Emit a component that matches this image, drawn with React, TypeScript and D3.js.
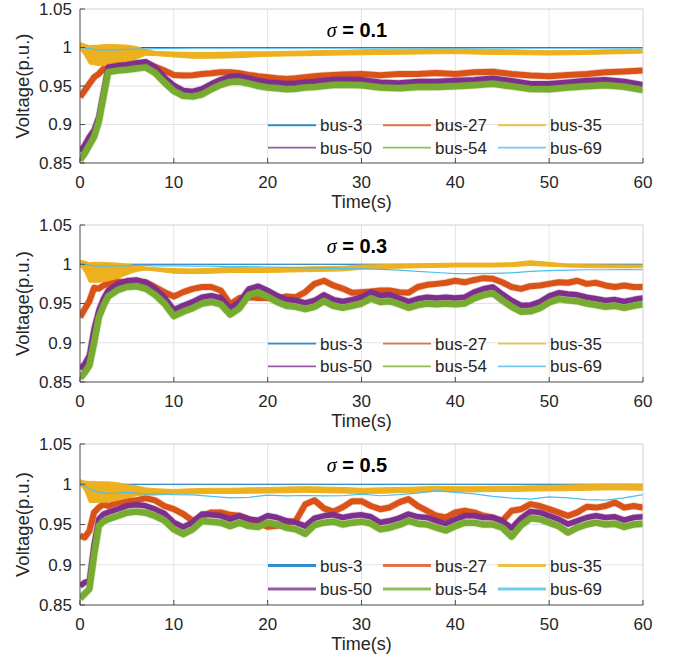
import * as d3 from "d3";

// time grids
const T1 = [0, 0.5, 1, 1.5, 2, 2.5, 3, 4, 5, 6, 7, 8, 9, 10, 11, 12, 13, 14, 15, 16, 17, 18, 19, 20, 21, 22, 23, 24, 25, 26, 27, 28, 29, 30, 32, 34, 36, 38, 40, 42, 44, 46, 48, 50, 52, 54, 56, 58, 60];
const T23 = [0, 0.5, 1, 1.5, 2, 2.5, 3, 4, 5, 6, 7, 8, 9, 10, 11, 12, 13, 14, 15, 16, 17, 18, 19, 20, 21, 22, 23, 24, 25, 26, 27, 28, 29, 30, 31, 32, 33, 34, 35, 36, 37, 38, 39, 40, 41, 42, 43, 44, 45, 46, 47, 48, 49, 50, 51, 52, 53, 54, 55, 56, 57, 58, 59, 60];
const TB = [0, 0.5, 1, 1.5, 2, 3, 4, 5, 6, 7, 8, 10, 12, 14, 16, 18, 20, 22, 24, 26, 28, 30, 32, 34, 36, 38, 40, 42, 44, 46, 48, 50, 52, 54, 56, 58, 60];
const TFLAT = [0, 60];

const busNames = ["bus-3", "bus-27", "bus-35", "bus-50", "bus-54", "bus-69"];
const busColors = ["#0072BD", "#D95319", "#EDB120", "#7E2F8E", "#77AC30", "#4DBEEE"];
const sigmas = ["0.1", "0.3", "0.5"];

// sigma = 0.1
const bus3_s1 = [1.0, 1.0];
const bus27_s1 = [0.9356, 0.9442, 0.9528, 0.9614, 0.9657, 0.9722, 0.9765, 0.976, 0.977, 0.979, 0.98, 0.975, 0.97, 0.9644, 0.9636, 0.964, 0.9657, 0.9665, 0.9678, 0.9678, 0.9665, 0.9644, 0.9627, 0.9614, 0.96, 0.9592, 0.96, 0.9614, 0.9627, 0.9636, 0.9644, 0.9648, 0.9652, 0.9657, 0.964, 0.9657, 0.9657, 0.967, 0.9657, 0.9678, 0.9685, 0.9657, 0.9636, 0.9627, 0.9644, 0.9657, 0.9678, 0.9687, 0.97];
const bus35lo_s1 = [0.998, 0.9894, 0.9786, 0.9775, 0.9764, 0.9764, 0.9773, 0.9808, 0.985, 0.99, 0.9895, 0.9878, 0.986, 0.986, 0.9865, 0.9875, 0.9885, 0.989, 0.9893, 0.9898, 0.9902, 0.9906, 0.991, 0.9912, 0.9915, 0.9918, 0.992, 0.9915, 0.991, 0.9908, 0.9905, 0.9902, 0.9905, 0.991, 0.9915, 0.992, 0.9928];
const bus35hi_s1 = [1.0066, 1.0044, 1.0023, 1.0028, 1.0031, 1.004, 1.0036, 1.0031, 1.0014, 0.9975, 0.995, 0.994, 0.9937, 0.9937, 0.994, 0.9945, 0.9945, 0.995, 0.9955, 0.996, 0.9965, 0.997, 0.9975, 0.9978, 0.998, 0.9985, 0.9988, 0.998, 0.9975, 0.997, 0.9965, 0.9958, 0.996, 0.9965, 0.997, 0.9975, 0.998];
const bus50_s1 = [0.8646, 0.8732, 0.884, 0.8926, 0.9098, 0.942, 0.9743, 0.9765, 0.9777, 0.98, 0.9816, 0.9743, 0.9614, 0.9506, 0.9442, 0.9429, 0.9463, 0.9528, 0.9584, 0.9623, 0.9627, 0.9601, 0.9571, 0.955, 0.9541, 0.9528, 0.9535, 0.955, 0.9558, 0.9571, 0.9584, 0.9584, 0.9584, 0.958, 0.955, 0.954, 0.956, 0.956, 0.957, 0.958, 0.96, 0.957, 0.953, 0.953, 0.955, 0.957, 0.958, 0.956, 0.9515];
const bus54_s1 = [0.8539, 0.8625, 0.8732, 0.884, 0.9035, 0.9357, 0.968, 0.97, 0.971, 0.9728, 0.9742, 0.967, 0.9545, 0.9435, 0.9372, 0.9362, 0.939, 0.9458, 0.9515, 0.9553, 0.9557, 0.9532, 0.95, 0.948, 0.947, 0.9458, 0.9465, 0.948, 0.9488, 0.95, 0.9513, 0.9515, 0.9513, 0.951, 0.948, 0.947, 0.9488, 0.9488, 0.9498, 0.951, 0.953, 0.9495, 0.946, 0.9458, 0.948, 0.9498, 0.951, 0.949, 0.9448];
const bus69_s1 = [1.0, 0.9992, 0.9985, 0.9975, 0.9965, 0.9968, 0.997, 0.9975, 0.998, 0.9983, 0.9985, 0.9988, 0.999, 0.999, 0.999, 0.999, 0.999, 0.999, 0.999, 0.999, 0.999, 0.999, 0.999, 0.999, 0.999, 0.999, 0.999, 0.999, 0.999, 0.999, 0.999, 0.999, 0.999, 0.999, 0.999, 0.999, 0.999];

// sigma = 0.3
const bus3_s2 = [1.0, 1.0];
const bus27_s2 = [0.9326, 0.943, 0.953, 0.97, 0.969, 0.973, 0.975, 0.978, 0.977, 0.978, 0.977, 0.971, 0.9645, 0.959, 0.9645, 0.9687, 0.971, 0.971, 0.9666, 0.949, 0.957, 0.958, 0.957, 0.957, 0.956, 0.959, 0.958, 0.9645, 0.975, 0.979, 0.973, 0.969, 0.9636, 0.9645, 0.9653, 0.9666, 0.9666, 0.9645, 0.9636, 0.971, 0.9738, 0.975, 0.9764, 0.979, 0.977, 0.98, 0.9823, 0.9815, 0.977, 0.971, 0.9687, 0.972, 0.973, 0.975, 0.977, 0.9764, 0.979, 0.975, 0.9764, 0.973, 0.971, 0.973, 0.971, 0.971];
const bus35lo_s2 = [0.9985, 0.99, 0.977, 0.977, 0.977, 0.979, 0.982, 0.9866, 0.9908, 0.9925, 0.9915, 0.9885, 0.988, 0.9885, 0.9895, 0.9895, 0.9895, 0.99, 0.9905, 0.991, 0.9915, 0.9935, 0.9945, 0.995, 0.9955, 0.996, 0.9965, 0.9965, 0.9965, 0.997, 0.9985, 0.9975, 0.9965, 0.9958, 0.9955, 0.9955, 0.9955];
const bus35hi_s2 = [1.005, 1.004, 1.002, 1.0025, 1.0025, 1.002, 1.0015, 1.0, 0.998, 0.9965, 0.9955, 0.9945, 0.994, 0.995, 0.996, 0.9955, 0.9955, 0.996, 0.9965, 0.997, 0.9975, 0.999, 0.9995, 1.0, 1.0005, 1.001, 1.0015, 1.0015, 1.0015, 1.002, 1.0045, 1.0025, 1.0, 0.9995, 0.9992, 0.999, 0.999];
const bus50_s2 = [0.8666, 0.873, 0.8836, 0.9177, 0.941, 0.956, 0.9666, 0.975, 0.979, 0.98, 0.977, 0.9687, 0.958, 0.942, 0.9475, 0.952, 0.958, 0.96, 0.957, 0.944, 0.952, 0.9687, 0.972, 0.9666, 0.96, 0.955, 0.9538, 0.9508, 0.9538, 0.961, 0.955, 0.9525, 0.955, 0.958, 0.9645, 0.96, 0.961, 0.957, 0.9525, 0.956, 0.958, 0.957, 0.958, 0.957, 0.958, 0.9645, 0.9687, 0.971, 0.962, 0.9538, 0.9475, 0.948, 0.952, 0.9594, 0.9636, 0.962, 0.961, 0.958, 0.956, 0.9538, 0.955, 0.9525, 0.955, 0.957];
const bus54_s2 = [0.855, 0.862, 0.871, 0.9, 0.932, 0.947, 0.959, 0.967, 0.971, 0.972, 0.969, 0.961, 0.95, 0.934, 0.9395, 0.944, 0.95, 0.952, 0.949, 0.936, 0.944, 0.961, 0.964, 0.9586, 0.952, 0.947, 0.9458, 0.9428, 0.9458, 0.953, 0.947, 0.9445, 0.947, 0.95, 0.9565, 0.952, 0.953, 0.949, 0.9445, 0.948, 0.95, 0.949, 0.95, 0.949, 0.95, 0.9565, 0.9607, 0.963, 0.954, 0.9458, 0.9395, 0.94, 0.944, 0.9514, 0.9556, 0.954, 0.953, 0.95, 0.948, 0.9458, 0.947, 0.9445, 0.947, 0.949];
const bus69_s2 = [1.0, 0.9995, 0.999, 0.998, 0.9977, 0.9975, 0.998, 0.998, 0.9985, 0.9985, 0.998, 0.998, 0.9975, 0.9975, 0.997, 0.997, 0.9965, 0.996, 0.9955, 0.995, 0.9945, 0.9943, 0.9935, 0.9925, 0.991, 0.9895, 0.988, 0.988, 0.9885, 0.989, 0.991, 0.992, 0.9925, 0.993, 0.993, 0.9932, 0.993];

// sigma = 0.5
const bus3_s3 = [1.0, 1.0];
const bus27_s3 = [0.936, 0.934, 0.942, 0.965, 0.971, 0.9753, 0.973, 0.977, 0.979, 0.98, 0.9828, 0.98, 0.973, 0.969, 0.963, 0.9546, 0.9608, 0.965, 0.965, 0.962, 0.9608, 0.9567, 0.9525, 0.9471, 0.9483, 0.9525, 0.9546, 0.975, 0.98, 0.97, 0.966, 0.9715, 0.979, 0.979, 0.973, 0.969, 0.9712, 0.9774, 0.9815, 0.973, 0.967, 0.9608, 0.9587, 0.965, 0.967, 0.965, 0.9608, 0.9587, 0.9546, 0.967, 0.969, 0.9753, 0.973, 0.969, 0.965, 0.9608, 0.965, 0.972, 0.971, 0.973, 0.9774, 0.971, 0.973, 0.971];
const bus35lo_s3 = [0.9995, 0.992, 0.9774, 0.9774, 0.9774, 0.978, 0.98, 0.9828, 0.9857, 0.9865, 0.9865, 0.9878, 0.988, 0.9885, 0.9885, 0.9888, 0.989, 0.9895, 0.99, 0.9895, 0.989, 0.9885, 0.9888, 0.9895, 0.99, 0.991, 0.9905, 0.9905, 0.991, 0.991, 0.9915, 0.9918, 0.992, 0.9925, 0.993, 0.993, 0.9925];
const bus35hi_s3 = [1.0055, 1.004, 1.0035, 1.0035, 1.003, 1.003, 1.002, 0.9995, 0.998, 0.9955, 0.9945, 0.9935, 0.9945, 0.995, 0.995, 0.9955, 0.996, 0.9965, 0.997, 0.9965, 0.996, 0.995, 0.9955, 0.996, 0.9965, 0.9975, 0.997, 0.997, 0.9975, 0.9975, 0.998, 0.9985, 0.999, 0.9995, 1.0, 1.0, 0.9995];
const bus50_s3 = [0.8737, 0.878, 0.88, 0.925, 0.9566, 0.9629, 0.965, 0.969, 0.9732, 0.9745, 0.9732, 0.969, 0.9637, 0.9525, 0.947, 0.9525, 0.9629, 0.962, 0.9608, 0.9566, 0.9608, 0.9566, 0.9554, 0.9608, 0.9587, 0.9546, 0.9525, 0.948, 0.9579, 0.9608, 0.962, 0.9587, 0.9608, 0.962, 0.9596, 0.9525, 0.9546, 0.9579, 0.9629, 0.9596, 0.9587, 0.9546, 0.9512, 0.9566, 0.9608, 0.9608, 0.9587, 0.9587, 0.9546, 0.9454, 0.9579, 0.9662, 0.965, 0.9608, 0.9566, 0.9504, 0.9546, 0.9587, 0.9608, 0.9587, 0.9596, 0.9554, 0.9587, 0.9596];
const bus54_s3 = [0.858, 0.864, 0.87, 0.912, 0.948, 0.954, 0.9565, 0.9605, 0.9647, 0.966, 0.9647, 0.9605, 0.955, 0.944, 0.938, 0.944, 0.9544, 0.9535, 0.9523, 0.948, 0.9523, 0.948, 0.947, 0.9523, 0.95, 0.946, 0.944, 0.9385, 0.9494, 0.9523, 0.9535, 0.95, 0.9523, 0.9535, 0.951, 0.944, 0.946, 0.9494, 0.9544, 0.951, 0.95, 0.946, 0.9425, 0.948, 0.9523, 0.9523, 0.95, 0.95, 0.946, 0.935, 0.949, 0.9577, 0.9565, 0.9523, 0.948, 0.94, 0.946, 0.95, 0.9523, 0.95, 0.951, 0.947, 0.95, 0.951];
const bus69_s3 = [1.0, 0.998, 0.994, 0.992, 0.99, 0.9886, 0.989, 0.99, 0.989, 0.9878, 0.988, 0.987, 0.9868, 0.985, 0.983, 0.9838, 0.9865, 0.9855, 0.986, 0.9855, 0.9857, 0.9878, 0.9857, 0.987, 0.989, 0.992, 0.99, 0.988, 0.985, 0.9828, 0.9815, 0.9844, 0.983, 0.981, 0.9803, 0.983, 0.987];

const yTicks = [0.85, 0.9, 0.95, 1, 1.05];
const xTicks = [0, 10, 20, 30, 40, 50, 60];

const panels = [
  { t: T1, b3: bus3_s1, b27: bus27_s1, lo: bus35lo_s1, hi: bus35hi_s1, b50: bus50_s1, b54: bus54_s1, b69: bus69_s1 },
  { t: T23, b3: bus3_s2, b27: bus27_s2, lo: bus35lo_s2, hi: bus35hi_s2, b50: bus50_s2, b54: bus54_s2, b69: bus69_s2 },
  { t: T23, b3: bus3_s3, b27: bus27_s3, lo: bus35lo_s3, hi: bus35hi_s3, b50: bus50_s3, b54: bus54_s3, b69: bus69_s3 },
];

const tops = [9, 225, 444];
const bottoms = [163, 382, 605];
const left = 80;
const right = 643;
const font = "'Liberation Sans', Arial, Helvetica, sans-serif";
const ink = "#262626";

function Panel({ k }: { k: number }) {
  const p = panels[k];
  const top = tops[k];
  const bottom = bottoms[k];
  const h = bottom - top;
  const x = d3.scaleLinear().domain([0, 60]).range([left, right]);
  const y = d3.scaleLinear().domain([0.85, 1.05]).range([bottom, top]);

  const lineOn = (ts: number[]) =>
    d3.line<number>().x((_, i) => x(ts[i])).y((d) => y(d));
  const band = d3
    .area<number>()
    .x((_, i) => x(TB[i]))
    .y0((d) => y(d))
    .y1((_, i) => y(p.hi[i]));

  // noisy traces: solid core with a soft fringe
  const thick = (vals: number[], color: string, w: number) => (
    <g>
      <path d={lineOn(p.t)(vals) || ""} fill="none" stroke={color} strokeWidth={w + 1.5} strokeOpacity={0.25} strokeLinejoin="round" />
      <path d={lineOn(p.t)(vals) || ""} fill="none" stroke={color} strokeWidth={w} strokeLinejoin="round" />
    </g>
  );

  const clipId = `clip${k}`;
  const legRows = [top + h * 0.755, top + h * 0.9];
  const legCols = [268, 383, 498];

  return (
    <g>
      <defs>
        <clipPath id={clipId}>
          <rect x={left} y={top} width={right - left} height={h} />
        </clipPath>
      </defs>
      {/* grid */}
      {xTicks.slice(1, -1).map((v) => (
        <line key={"gx" + v} x1={x(v)} x2={x(v)} y1={top} y2={bottom} stroke="#e3e3e3" strokeWidth={1} />
      ))}
      {yTicks.slice(1, -1).map((v) => (
        <line key={"gy" + v} x1={left} x2={right} y1={y(v)} y2={y(v)} stroke="#e3e3e3" strokeWidth={1} />
      ))}
      <g clipPath={`url(#${clipId})`}>
        <path d={lineOn(TFLAT)(p.b3) || ""} fill="none" stroke={busColors[0]} strokeWidth={1.2} />
        {thick(p.b27, busColors[1], 6)}
        <path d={band(p.lo) || ""} fill={busColors[2]} stroke={busColors[2]} strokeWidth={1} />
        {thick(p.b50, busColors[3], 5.5)}
        {thick(p.b54, busColors[4], 6.5)}
        <path d={lineOn(TB)(p.b69) || ""} fill="none" stroke={busColors[5]} strokeWidth={1.2} />
      </g>
      {/* box */}
      <line x1={left} x2={right} y1={top} y2={top} stroke="#d0d0d0" />
      <line x1={right} x2={right} y1={top} y2={bottom} stroke="#d0d0d0" />
      <line x1={left} x2={left} y1={top} y2={bottom} stroke="#4a4a4a" />
      <line x1={left} x2={right} y1={bottom} y2={bottom} stroke="#4a4a4a" />
      {xTicks.map((v) => (
        <g key={"tx" + v}>
          <line x1={x(v)} x2={x(v)} y1={bottom} y2={bottom - 5} stroke="#4a4a4a" />
          <text x={x(v)} y={bottom + 25} textAnchor="middle" fontSize={17} fill={ink} fontFamily={font}>
            {v}
          </text>
        </g>
      ))}
      {yTicks.map((v) => (
        <g key={"ty" + v}>
          <line x1={left} x2={left + 5} y1={y(v)} y2={y(v)} stroke="#4a4a4a" />
          <text x={left - 8} y={y(v)} dy="0.35em" textAnchor="end" fontSize={17} fill={ink} fontFamily={font}>
            {d3.format("~g")(v)}
          </text>
        </g>
      ))}
      <text x={(left + right) / 2} y={bottom + 45} textAnchor="middle" fontSize={18} fill={ink} fontFamily={font}>
        Time(s)
      </text>
      <text
        transform={`translate(29,${(top + bottom) / 2}) rotate(-90)`}
        textAnchor="middle"
        fontSize={18.5}
        fill={ink}
        fontFamily={font}
      >
        Voltage(p.u.)
      </text>
      <text x={357} y={top + 28} textAnchor="middle" fontSize={20} fill="#000" fontFamily={font}>
        <tspan fontFamily="'Liberation Serif', 'Times New Roman', serif" fontStyle="italic">σ</tspan>
        <tspan fontWeight="bold">{" = " + sigmas[k]}</tspan>
      </text>
      {/* legend */}
      {busNames.map((name, i) => {
        const ly = legRows[Math.floor(i / 3)];
        const lx = legCols[i % 3];
        return (
          <g key={name}>
            <line x1={lx} x2={lx + 48} y1={ly} y2={ly} stroke={busColors[i]} strokeWidth={k === 2 ? 3 : 1.8} strokeOpacity={0.8} />
            <text x={lx + 52} y={ly} dy="0.36em" fontSize={17} fill={ink} fontFamily={font}>
              {name}
            </text>
          </g>
        );
      })}
    </g>
  );
}

export default function App() {
  return (
    <svg width={678} height={658} style={{ display: "block", position: "absolute", left: 0, top: 0, background: "#fff" }}>
      <rect width={678} height={658} fill="#fff" />
      {[0, 1, 2].map((k) => (
        <Panel key={k} k={k} />
      ))}
    </svg>
  );
}
